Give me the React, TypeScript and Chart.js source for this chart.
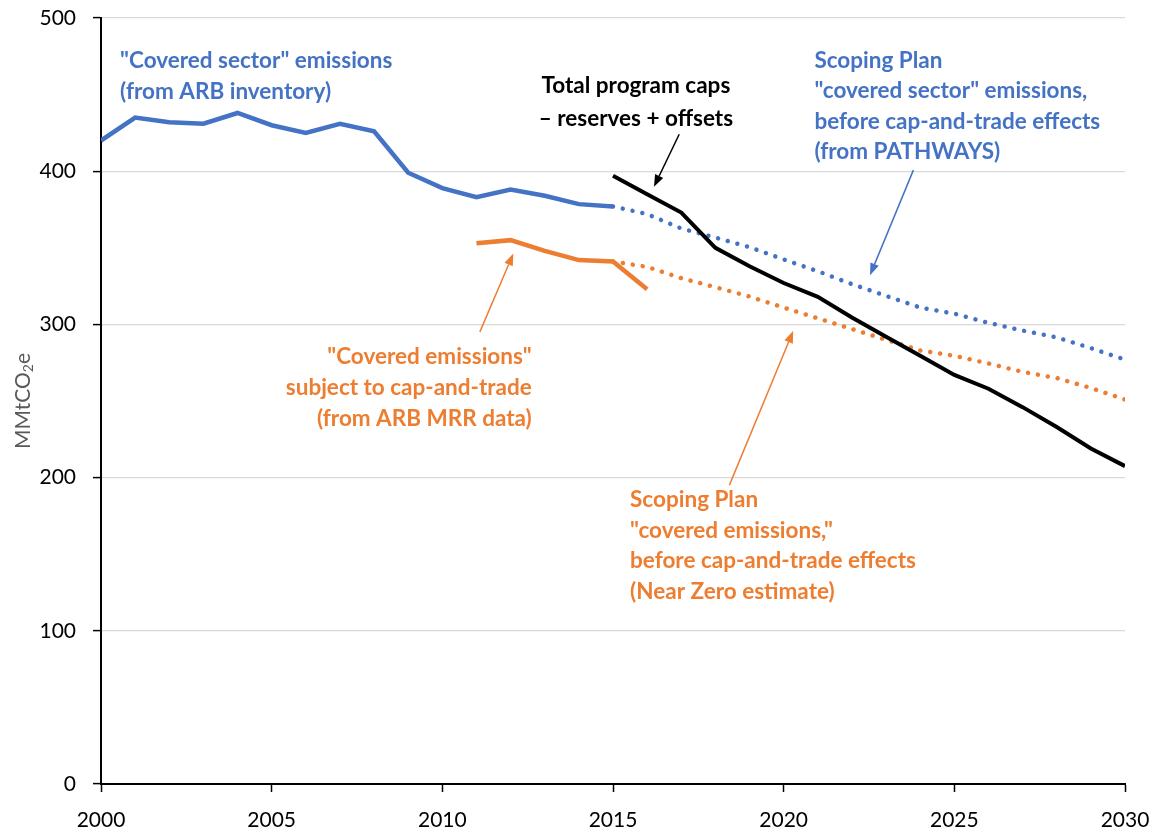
import React, { useEffect, useRef } from 'react';
import { Chart, registerables } from 'chart.js';

Chart.register(...registerables);

// ---------- data ----------
const inventoryYears = [2000, 2001, 2002, 2003, 2004, 2005, 2006, 2007, 2008, 2009, 2010, 2011, 2012, 2013, 2014, 2015];
const inventoryValues = [420, 435, 432, 431, 438, 430, 425, 431, 426, 399, 389, 383, 388, 384, 378.5, 377];

const mrrYears = [2011, 2012, 2013, 2014, 2015, 2016];
const mrrValues = [353, 355, 348, 342, 341, 323];

const capYears = [2015, 2016, 2017, 2018, 2019, 2020, 2021, 2022, 2023, 2024, 2025, 2026, 2027, 2028, 2029, 2030];
const capValues = [397, 385, 373, 350, 338, 327, 318, 304.5, 292, 279.5, 267, 258, 246, 233, 219, 207.5];

const pathwaysYears = [2015, 2016, 2017, 2018, 2019, 2020, 2021, 2022, 2023, 2024, 2025, 2026, 2027, 2028, 2029, 2030];
const pathwaysValues = [377, 372, 362.6, 356.7, 350.4, 342.4, 334.7, 326.3, 318.6, 311, 307, 301, 296, 291.5, 284.5, 277];

const nearZeroYears = [2015, 2016, 2017, 2018, 2019, 2020, 2021, 2022, 2023, 2024, 2025, 2026, 2027, 2028, 2029, 2030];
const nearZeroValues = [341, 337.6, 330.2, 324.3, 318.2, 311, 304, 297, 290, 283, 279.5, 274.5, 269, 265, 258.5, 251];

const yTickValues = [0, 100, 200, 300, 400, 500];
const xTickValues = [2000, 2005, 2010, 2015, 2020, 2025, 2030];

const BLUE = '#4472C4';
const ORANGE = '#ED7D31';
const BLACK = '#000000';

// annotation text (anchored in data units: [year, value])
const notes = [
  { lines: ['"Covered sector" emissions', '(from ARB inventory)'], at: [2000.56, 472.4], align: 'left', color: BLUE, spacing: 31 },
  { lines: ['Total program caps', '\u2013 reserves + offsets'], at: [2015.67, 455.5], align: 'center', color: BLACK, spacing: 33 },
  { lines: ['Scoping Plan', '"covered sector" emissions,', 'before cap-and-trade effects', '(from PATHWAYS)'], at: [2020.9, 472.4], align: 'left', color: BLUE, spacing: 30.5 },
  { lines: ['"Covered emissions"', 'subject to cap-and-trade', '(from ARB MRR data)'], at: [2012.62, 278.8], align: 'right', color: ORANGE, spacing: 30.7 },
  { lines: ['Scoping Plan', '"covered emissions,"', 'before cap-and-trade effects', '(Near Zero estimate)'], at: [2015.5, 185.3], align: 'left', color: ORANGE, spacing: 30.5 },
];

const arrows = [
  { from: [2016.94, 424.1], to: [2016.2, 389.8], color: BLACK },
  { from: [2023.8, 400.7], to: [2022.53, 332.1], color: BLUE },
  { from: [2011.1, 295.1], to: [2012.08, 346.3], color: ORANGE },
  { from: [2018.41, 195.1], to: [2020.28, 295.8], color: ORANGE },
];

const toPoints = (xs: number[], ys: number[]) => xs.map((x, i) => ({ x, y: ys[i] }));

const notesPlugin = {
  id: 'notesPlugin',
  afterDatasetsDraw(chart: any) {
    const { ctx, scales, chartArea } = chart;
    const xs = scales.x;
    const ys = scales.y;
    ctx.save();
    // arrows
    for (const a of arrows) {
      const x1 = xs.getPixelForValue(a.from[0]);
      const y1 = ys.getPixelForValue(a.from[1]);
      const x2 = xs.getPixelForValue(a.to[0]);
      const y2 = ys.getPixelForValue(a.to[1]);
      const ang = Math.atan2(y2 - y1, x2 - x1);
      const headLen = 12;
      const headW = 4.5;
      const bx = x2 - headLen * Math.cos(ang);
      const by = y2 - headLen * Math.sin(ang);
      ctx.strokeStyle = a.color;
      ctx.fillStyle = a.color;
      ctx.lineWidth = 1.5;
      ctx.beginPath();
      ctx.moveTo(x1, y1);
      ctx.lineTo(bx, by);
      ctx.stroke();
      ctx.beginPath();
      ctx.moveTo(x2, y2);
      ctx.lineTo(bx + headW * Math.sin(ang), by - headW * Math.cos(ang));
      ctx.lineTo(bx - headW * Math.sin(ang), by + headW * Math.cos(ang));
      ctx.closePath();
      ctx.fill();
    }
    // texts
    ctx.font = 'bold 22.5px Lato';
    ctx.textBaseline = 'middle';
    for (const n of notes) {
      const px = xs.getPixelForValue(n.at[0]);
      const py = ys.getPixelForValue(n.at[1]);
      ctx.fillStyle = n.color;
      ctx.textAlign = n.align;
      n.lines.forEach((l, i) => ctx.fillText(l, px, py + i * n.spacing));
    }
    // y-axis title with subscript
    const cy = (chartArea.top + chartArea.bottom) / 2;
    ctx.translate(23, cy);
    ctx.rotate(-Math.PI / 2);
    ctx.fillStyle = '#595959';
    ctx.textAlign = 'left';
    ctx.textBaseline = 'middle';
    const mainFont = '21px Lato';
    const subFont = '14px Lato';
    ctx.font = mainFont;
    const w1 = ctx.measureText('MMtCO').width;
    const w3 = ctx.measureText('e').width;
    ctx.font = subFont;
    const w2 = ctx.measureText('2').width;
    const total = w1 + w2 + w3;
    let sx = -total / 2;
    ctx.font = mainFont;
    ctx.fillText('MMtCO', sx, 0);
    sx += w1;
    ctx.font = subFont;
    ctx.fillText('2', sx, 5);
    sx += w2;
    ctx.font = mainFont;
    ctx.fillText('e', sx, 0);
    ctx.restore();
  },
};

export default function App() {
  const canvasRef = useRef<HTMLCanvasElement | null>(null);

  useEffect(() => {
    document.body.style.margin = '0';
    const canvas = canvasRef.current;
    if (!canvas) return;
    Chart.defaults.font.family = 'Lato';

    const chart = new Chart(canvas, {
      type: 'line',
      data: {
        datasets: [
          {
            label: 'Total program caps - reserves + offsets',
            data: toPoints(capYears, capValues),
            borderColor: BLACK,
            borderWidth: 4,
            pointRadius: 0,
            tension: 0,
            fill: false,
          },
          {
            label: 'Covered sector emissions (ARB inventory)',
            data: toPoints(inventoryYears, inventoryValues),
            borderColor: BLUE,
            borderWidth: 4.5,
            pointRadius: 0,
            tension: 0,
            fill: false,
          },
          {
            label: 'Covered emissions (ARB MRR)',
            data: toPoints(mrrYears, mrrValues),
            borderColor: ORANGE,
            borderWidth: 4.5,
            pointRadius: 0,
            tension: 0,
            fill: false,
          },
          {
            label: 'Scoping Plan PATHWAYS',
            data: toPoints(pathwaysYears, pathwaysValues),
            borderColor: BLUE,
            borderWidth: 4.5,
            borderDash: [0.01, 10],
            borderCapStyle: 'round',
            pointRadius: 0,
            tension: 0,
            fill: false,
          },
          {
            label: 'Scoping Plan Near Zero',
            data: toPoints(nearZeroYears, nearZeroValues),
            borderColor: ORANGE,
            borderWidth: 4.5,
            borderDash: [0.01, 10],
            borderCapStyle: 'round',
            pointRadius: 0,
            tension: 0,
            fill: false,
          },
        ],
      },
      options: {
        responsive: false,
        animation: false,
        events: [],
        layout: { padding: { top: 18, right: 29, bottom: 0, left: 0 } },
        plugins: {
          legend: { display: false },
          tooltip: { enabled: false },
          title: { display: false },
        },
        scales: {
          x: {
            type: 'linear',
            min: 2000,
            max: 2030,
            afterFit: (s: any) => {
              s.height = 43;
              s.paddingLeft = 0;
              s.paddingRight = 0;
              s.paddingTop = 0;
              s.paddingBottom = 0;
            },
            afterBuildTicks: (s: any) => { s.ticks = xTickValues.map((v) => ({ value: v })); },
            ticks: {
              autoSkip: false,
              maxRotation: 0,
              padding: 16,
              color: '#000',
              font: { size: 21 },
              callback: (v: any) => String(v),
            },
            grid: {
              drawOnChartArea: false,
              drawTicks: true,
              tickLength: 8,
              tickColor: '#000',
              tickWidth: 1.5,
            },
            border: { display: true, color: '#000', width: 2 },
          },
          y: {
            type: 'linear',
            min: 0,
            max: 500,
            afterFit: (s: any) => {
              s.width = 101;
              s.paddingLeft = 0;
              s.paddingRight = 0;
              s.paddingTop = 0;
              s.paddingBottom = 0;
            },
            afterBuildTicks: (s: any) => { s.ticks = yTickValues.map((v) => ({ value: v })); },
            ticks: {
              padding: 17,
              color: '#000',
              font: { size: 21 },
              callback: (v: any) => String(v),
            },
            grid: {
              color: '#d9d9d9',
              lineWidth: 1.2,
              drawTicks: true,
              tickLength: 8,
              tickColor: '#000',
              tickWidth: 1.5,
            },
            border: { display: true, color: '#000', width: 2 },
          },
        },
      },
      plugins: [notesPlugin],
    } as any);

    return () => chart.destroy();
  }, []);

  return (
    <div style={{ width: 1154, height: 827, background: '#fff' }}>
      <canvas ref={canvasRef} width={1154} height={827} style={{ display: 'block' }} />
    </div>
  );
}
